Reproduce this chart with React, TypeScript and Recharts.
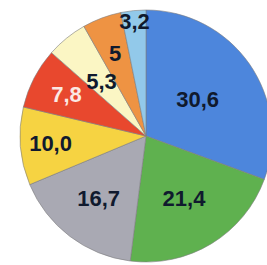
import { PieChart, Pie, Cell } from 'recharts';

const categories = ['A', 'B', 'C', 'D', 'E', 'F', 'G', 'H'];
const values = [30.6, 21.4, 16.7, 10.0, 7.8, 5.3, 5, 3.2];
const valueLabels = ['30,6', '21,4', '16,7', '10,0', '7,8', '5,3', '5', '3,2'];

const data = categories.map((name, i) => ({ name, value: values[i], label: valueLabels[i] }));

const COLORS = ['#4d86dc', '#5fb14f', '#a9a9b3', '#f6d342', '#e8482e', '#fbf6c4', '#ee9343', '#92c9ea'];
const TEXT_COLORS = ['#101a2e', '#101a2e', '#101a2e', '#101a2e', '#fbe9e4', '#101a2e', '#101a2e', '#101a2e'];
// label distance from centre, as a share of the outer radius
const LABEL_RADIUS = [0.5, 0.58, 0.62, 0.76, 0.71, 0.56, 0.7, 0.91];

const RADIAN = Math.PI / 180;

const renderLabel = (props: any) => {
  const { cx, cy, midAngle, outerRadius, index } = props;
  const r = outerRadius * LABEL_RADIUS[index];
  const x = cx + r * Math.cos(-midAngle * RADIAN);
  const y = cy + r * Math.sin(-midAngle * RADIAN);
  return (
    <text
      x={x}
      y={y}
      fill={TEXT_COLORS[index]}
      textAnchor="middle"
      dominantBaseline="central"
      fontFamily="Liberation Sans, Arial, sans-serif"
      fontWeight="bold"
      fontSize={22}
    >
      {data[index].label}
    </text>
  );
};

export default function App() {
  return (
    <div style={{ position: 'fixed', left: 0, top: 0, width: 267, height: 265, background: '#fff', overflow: 'hidden' }}>
      <PieChart width={267} height={265} margin={{ top: 0, right: 0, bottom: 0, left: 0 }}>
        <Pie
          data={data}
          dataKey="value"
          nameKey="name"
          cx={146}
          cy={136}
          outerRadius={126}
          startAngle={90}
          endAngle={-270}
          stroke="#7d7d80"
          strokeWidth={0.6}
          label={renderLabel}
          labelLine={false}
          isAnimationActive={false}
        >
          {data.map((_, i) => (
            <Cell key={`cell-${i}`} fill={COLORS[i]} />
          ))}
        </Pie>
      </PieChart>
    </div>
  );
}
